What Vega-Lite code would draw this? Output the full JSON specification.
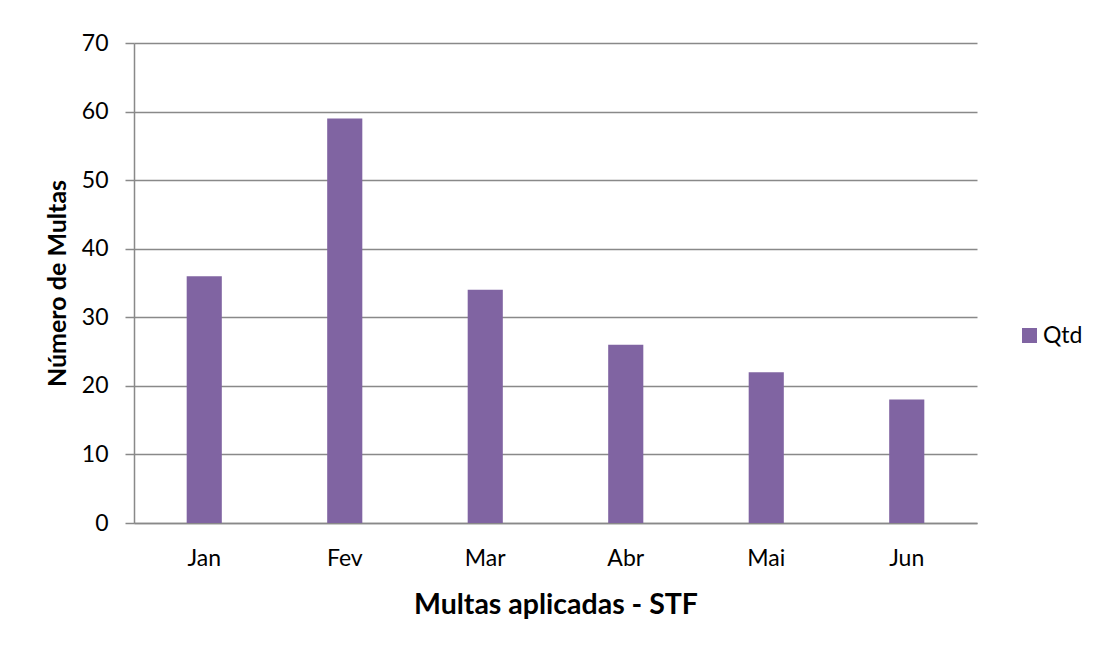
{
  "$schema": "https://vega.github.io/schema/vega-lite/v6.json",
  "autosize": {"type": "none"},
  "width": 843,
  "height": 480,
  "padding": {"left": 134, "top": 43, "right": 121, "bottom": 125},
  "background": "white",
  "data": {
    "values": [
      {"mes": "Jan", "qtd": 36, "serie": "Qtd"},
      {"mes": "Fev", "qtd": 59, "serie": "Qtd"},
      {"mes": "Mar", "qtd": 34, "serie": "Qtd"},
      {"mes": "Abr", "qtd": 26, "serie": "Qtd"},
      {"mes": "Mai", "qtd": 22, "serie": "Qtd"},
      {"mes": "Jun", "qtd": 18, "serie": "Qtd"}
    ]
  },
  "mark": {"type": "bar", "color": "#8064A2"},
  "encoding": {
    "x": {
      "field": "mes",
      "type": "nominal",
      "sort": null,
      "scale": {"paddingInner": 0.75, "paddingOuter": 0.375},
      "axis": {
        "title": "Multas aplicadas - STF",
        "labelAngle": 0,
        "ticks": false,
        "grid": false,
        "domainColor": "#898989",
        "domainWidth": 1.5,
        "labelFont": "Lato",
        "labelFontSize": 23,
        "labelColor": "#000000",
        "labelPadding": 24,
        "titleFont": "Lato",
        "titleFontSize": 28.5,
        "titleFontWeight": "bold",
        "titleColor": "#000000",
        "titlePadding": 20
      }
    },
    "y": {
      "field": "qtd",
      "type": "quantitative",
      "scale": {"domain": [0, 70], "nice": false},
      "axis": {
        "title": "Número de Multas",
        "values": [0, 10, 20, 30, 40, 50, 60, 70],
        "grid": true,
        "gridColor": "#898989",
        "gridWidth": 1.5,
        "domainColor": "#898989",
        "domainWidth": 1.5,
        "tickColor": "#898989",
        "tickWidth": 1.5,
        "tickSize": 9,
        "labelFont": "Lato",
        "labelFontSize": 23,
        "labelColor": "#000000",
        "labelPadding": 17,
        "titleFont": "Lato",
        "titleFontSize": 25,
        "titleFontWeight": "bold",
        "titleColor": "#000000",
        "titlePadding": 11
      }
    },
    "color": {
      "field": "serie",
      "type": "nominal",
      "scale": {"range": ["#8064A2"]},
      "legend": {
        "title": null,
        "orient": "none",
        "legendX": 884,
        "legendY": 281,
        "symbolType": "square",
        "symbolSize": 225,
        "symbolStrokeWidth": 0,
        "symbolOpacity": 1,
        "labelFont": "Lato",
        "labelFontSize": 23,
        "labelColor": "#000000",
        "labelOffset": 2
      }
    }
  },
  "config": {
    "view": {"stroke": null}
  }
}
